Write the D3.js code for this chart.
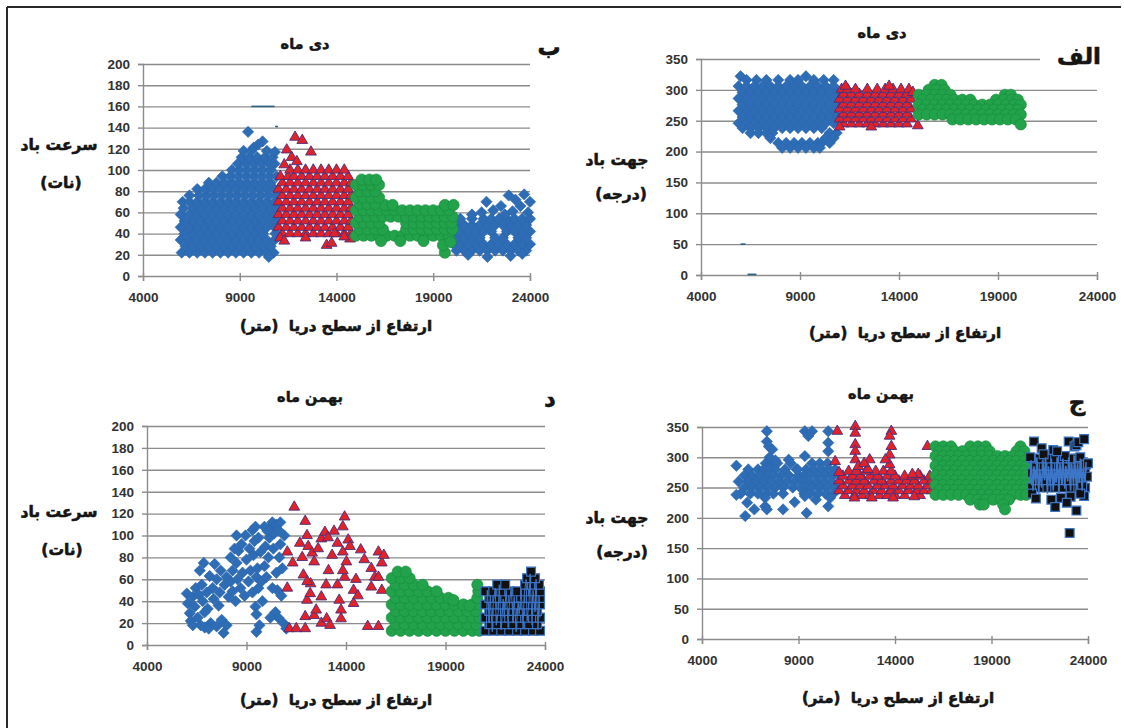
<!DOCTYPE html>
<html><head><meta charset="utf-8">
<script src="https://cdn.jsdelivr.net/npm/d3@7"></script>
<style>body{margin:0;background:#fff}svg{display:block}</style>
</head><body>
<svg id="chart" width="1124" height="728"></svg>
<script>
// ---------------- tick labels / categories ----------------
const xTicks = [4000, 9000, 14000, 19000, 24000];
const speedTicks = [0, 20, 40, 60, 80, 100, 120, 140, 160, 180, 200];
const dirTicks = [0, 50, 100, 150, 200, 250, 300, 350];
const monthTitles = ["دی ماه", "بهمن ماه"];
const panelLetters = ["الف", "ب", "ج", "د"];
const speedTitle = ["سرعت باد", "(نات)"];
const dirTitle = ["جهت باد", "(درجه)"];
const altTitle = "ارتفاع از سطح دریا  (متر)";

// ---------------- data: rows are [y, x1, x2, ...]; pairs are [x, y] ----------------
// Panel ب : Dey, wind speed (knots) vs altitude (m)
const deySpeedBlueRows = [
 [22, 6000,6400,6800,7200,7600,8000,8400,8800,9200,9600,10000,10400,10750],
 [28, 6200,6600,7000,7400,7800,8200,8600,9000,9400,9800,10200,10600],
 [34, 5950,6400,6800,7200,7600,8000,8400,8800,9200,9600,10000,10400,10800],
 [40, 6150,6600,7000,7400,7800,8200,8600,9000,9400,9800,10200,10850],
 [46, 5950,6400,6800,7200,7600,8000,8400,8800,9200,9600,10000,10400,10800],
 [52, 6150,6600,7000,7400,7800,8200,8600,9000,9400,9800,10200,10600,10900],
 [58, 5950,6400,6800,7200,7600,8000,8400,8800,9200,9600,10000,10400,10800],
 [64, 6100,6600,7000,7400,7800,8200,8600,9000,9400,9800,10200,10600,10900],
 [70, 6050,6400,6800,7200,7600,8000,8400,8800,9200,9600,10000,10400,10800],
 [76, 6400,6900,7300,7700,8100,8500,8900,9300,9700,10100,10500,10900],
 [82, 6800,7200,7600,8000,8400,8800,9200,9600,10000,10400,10800],
 [88, 7400,7800,8200,8600,9000,9400,9800,10200,10600],
 [94, 8100,8500,8900,9300,9700,10100,10500,10900],
 [100, 8600,9000,9400,9800,10200,10600],
 [106, 8900,9300,9700,10100,10500,10800],
 [112, 9100,9500,9900,10300,10700],
 [118, 9200,9600,10400]
];
const deySpeedBlueExtra = [[9430,136],[10180,127],[10820,117],[9715,121],[9950,124],[10500,18]];
const deySpeedRedRows = [
 [40, 11200,11600,12000,12400,12800,13200,13600,14000,14400,14750],
 [46, 11000,11400,11800,12200,12600,13000,13400,13800,14200,14600],
 [52, 11200,11600,12000,12400,12800,13200,13600,14000,14400,14750],
 [58, 11000,11400,11800,12200,12600,13000,13400,13800,14200,14600],
 [64, 11200,11600,12000,12400,12800,13200,13600,14000,14400,14750],
 [70, 11000,11400,11800,12200,12600,13000,13400,13800,14200,14600],
 [76, 11200,11600,12000,12400,12800,13200,13600,14000,14400,14750],
 [82, 11000,11400,11800,12200,12600,13000,13400,13800,14200,14600],
 [88, 11200,11600,12000,12400,12800,13200,13600,14000,14400,14750],
 [94, 11100,11500,11800,12200,12600,13000,13400,13800,14200,14600],
 [100, 11600,12000,12400,12800,13200,13600,14000,14400]
];
const deySpeedRedExtra = [[11860,131],[12230,128],[11430,119],[11680,112],[12680,117],[11950,108],[11300,105],
 [13490,29],[13750,31],[14700,35],[11080,36],[11300,33],[12400,36],[14400,37],[13900,40]];
const deySpeedGreenRows = [
 [38, 15000,15400,15800,16200,16600,17000,17400,17800,18200,18600,19000,19400,19800],
 [44, 15200,15600,16000,16400,17600,18000,18400,18800,19200,19600,20000],
 [50, 15000,15400,15800,16200,17600,18000,18400,18800,19200,19600,19950],
 [56, 15200,15600,16000,16400,16800,17200,17600,18000,18400,18800,19200,19600,20000],
 [62, 15000,15400,15800,16200,16600,17000,17400,17800,18200,18600,19000,19400,19800],
 [67, 16500,16900,19600,20050],
 [68, 15200,15600,16000],
 [74, 15000,15400,15800,16200],
 [80, 15200,15600,16000],
 [86, 15000,15400,15800,16200],
 [91, 15300,15700,16050]
];
const deySpeedGreenExtra = [[19600,22],[19500,29],[19900,32],[16300,33],[18500,33],[17300,33]];
const deySpeedBlue2Rows = [
 [24, 20200,20600,21000,21400,21800,22200,22600,23000,23400,23800],
 [30, 20050,20400,20800,21200,21600,22000,22400,22800,23200,23600,24000],
 [36, 20200,20600,21000,21400,22200,22600,23400,23800],
 [42, 20050,20400,20800,21200,21600,22000,22800,23200,23600,24000],
 [48, 20200,20600,21000,21400,21800,22200,22600,23000,23400,23800],
 [54, 20400,21000,21600,22000,22400,22800,23200,23600,24000]
];
const deySpeedBlue2Extra = [[21750,70],[22100,62],[22500,66],[22900,76],[23250,72],[23500,66],[23700,77],[24000,70],
 [23900,60],[22700,58],[23100,61],[21500,60],[21000,58],[20800,20],[21800,18],[23000,19],[23600,21]];
const deySpeedDash = [[9600,10800,160],[10830,10980,141]];

// Panel الف : Dey, wind direction (degrees) vs altitude (m)
const deyDirBlueRows = [
 [322, 6000,9300],
 [316, 6300,6800,7300,7900,8500,8900,9700,10200,10700],
 [306, 5900,6300,6700,7100,7500,7900,8300,8700,9100,9500,9900,10300,10700],
 [296, 6100,6500,6900,7300,7700,8100,8500,8900,9300,9700,10100,10500,10900],
 [286, 5900,6300,6700,7100,7500,7900,8300,8700,9100,9500,9900,10300,10700],
 [276, 6100,6500,6900,7300,7700,8100,8500,8900,9300,9700,10100,10500,10900],
 [266, 5900,6300,6700,7100,7500,7900,8300,8700,9100,9500,9900,10300,10700],
 [256, 6100,6500,6900,7300,7700,8100,8500,8900,9300,9700,10100,10500,10900],
 [246, 5900,6300,6700,7100,7500,7900,8300,8700,9100,9500,9900,10300,10700],
 [238, 6100,6500,6900,7300,7700,8100,8500,8900,9300,9700,10100],
 [230, 6500,6900,7300,7600,10500,10850],
 [222, 7500,10300,10700],
 [214, 7900,8300,8700,9100,9500,9900,10100,10500],
 [206, 8100,8500,8900,9300,9700,10000]
];
const deyDirRedRows = [
 [245, 11200,11600,12000,12400,12800,13200,13600,14000,14400],
 [253, 11000,11400,11800,12200,12600,13000,13400,13800,14200,14600],
 [261, 11200,11600,12000,12400,12800,13200,13600,14000,14400],
 [269, 11000,11400,11800,12200,12600,13000,13400,13800,14200,14600],
 [277, 11200,11600,12000,12400,12800,13200,13600,14000,14400],
 [285, 11000,11400,11800,12200,12600,13000,13400,13800,14200,14600],
 [293, 11200,11600,12000,12400,12800,13200,13600,14000,14400],
 [301, 11100,11400,11800,12400,12900,13300,13700,14100,14500]
];
const deyDirRedExtra = [[14950,242],[11300,306],[13500,306],[14700,296],[11000,240],[12600,240]];
const deyDirGreenRows = [
 [308, 15800,16150],
 [300, 15500,15900,16300],
 [292, 15000,15400,15800,16200,16600,19350,19650],
 [284, 15200,15600,16000,16400,16800,17200,17600,18900,19300,19700,20000],
 [276, 15000,15400,15800,16200,16600,17000,17400,17800,18200,18600,19000,19400,19800,20150],
 [268, 15200,15600,16000,16400,16800,17200,17600,18000,18400,18800,19200,19600,20000],
 [260, 15000,15400,15800,16200,16600,17000,17400,17800,18200,18600,19000,19400,19800,20150],
 [252, 16700,17100,17500,17900,18300,18700,19100,19500,19900],
 [244, 20150]
];
const deyDirDash = [[6000,6250,50],[6350,6800,1]];

// Panel د : Bahman, wind speed (knots)
const bahmanSpeedBlue = [
 [6000,47],[6050,38],[6150,29],[6200,22],[6300,44],[6400,35],[6450,52],[6600,46],[6550,25],[6700,18],
 [6800,40],[6750,55],[6650,68],[6850,75],[6900,16],[7000,48],[7050,33],[7150,63],[7200,20],[7300,52],
 [7400,74],[7350,42],[7500,60],[7500,17],[7600,36],[7650,48],[7700,68],[7750,23],[7850,11],[7900,55],
 [8000,62],[8000,18],[8100,44],[8200,58],[8300,68],[8300,49],[8450,40],[8500,75],[8550,60],[8600,86],
 [8700,52],[8750,92],[8800,66],[8900,45],[8950,100],[9000,78],[9100,58],[9150,88],[9200,68],[9300,105],
 [9300,48],[9400,95],[9350,82],[9450,108],[9500,62],[9450,35],[9500,28],[9550,70],[9600,98],[9600,52],
 [9500,12],[9650,18],[9700,85],[9750,58],[9800,40],[9900,72],[9950,90],[10000,62],[10100,80],[10150,98],
 [10200,108],[10300,112],[10350,88],[10400,102],[10450,30],[10500,110],[10500,66],[10550,50],[10600,105],[10600,25],
 [10650,80],[10700,112],[10700,92],[10750,45],[10800,70],[10850,20],[10900,100],[11000,15],[10200,25],[10300,52],
 [9900,108],[10050,104],[8500,100],[8400,88],[8200,80],[6900,30],[7100,15],[6300,18]
];
const bahmanSpeedRed = [
 [11400,126],[11050,85],[11320,75],[11950,113],[11680,93],[12040,100],[11860,64],[12400,76],[12220,56],[12040,41],
 [11950,26],[11950,15],[11150,15],[11500,15],[11050,52],[12760,97],[12940,103],[13300,82],[13570,93],[13120,68],
 [12760,44],[12400,27],[12760,20],[13030,24],[13570,55],[13660,41],[13930,62],[13840,108],[13930,117],[14110,96],
 [13840,85],[14020,76],[13840,68],[13750,32],[13750,24],[14380,50],[14380,38],[14740,87],[14920,78],[15270,70],
 [15450,62],[15270,53],[15630,85],[15800,75],[15630,62],[15800,50],[15090,17],[15630,17],[12100,90],[12300,84],
 [12600,88],[13100,98],[13400,104],[12200,47],[12500,32],[13200,18],[14200,90],[14600,45],[15900,82],[11800,80],
 [12050,58],[13000,55],[14500,60]
];
const bahmanSpeedGreenRows = [
 [13, 16300,16750,17200,17650,18100,18550,19000,19450,19900,20350,20700],
 [19, 16500,16950,17400,17850,18300,18750,19200,19650,20100,20550],
 [25, 16300,16750,17200,17650,18100,18550,19000,19450,19900,20350,20700],
 [31, 16500,16950,17400,17850,18300,18750,19200,19650,20100,20550],
 [37, 16300,16750,17200,17650,18100,18550,19000,19450,19900,20350,20700],
 [43, 16500,16950,17400,17850,18300,18750,19150,20600],
 [49, 16300,16750,17200,17650,18100,18550,20650],
 [55, 16500,16950,17400,17850,20600],
 [61, 16300,16750,17200],
 [67, 16600,17000]
];
const bahmanSpeedGreenExtra = [[19400,41],[20200,36]];
const bahmanSpeedBlackRows = [
 [13, 21000,21400,21800,22200,22600,23000,23400,23750],
 [19, 21200,21600,22000,22400,22800,23200,23600],
 [25, 21000,21400,21800,22200,22600,23000,23400,23750],
 [31, 21200,21600,22000,22400,22800,23200,23600],
 [37, 21000,21400,21800,22200,22600,23000,23400,23750],
 [43, 21200,21600,22000,22400,22800,23200,23600,23750],
 [49, 21000,21400,21800,22200,22600,23000,23400,23750],
 [55, 21600,22000,23000,23350,23700],
 [61, 23100,23500],
 [67, 23300]
];
// blue profile trace running through the black-square cloud
const bahmanSpeedBlackTrace = [[21050,15],[21100,50],[21200,20],[21250,45],[21350,12],[21400,38],[21500,52],[21550,18],
 [21650,30],[21700,55],[21800,14],[21900,42],[21950,25],[22050,50],[22150,16],[22200,35],[22300,53],[22400,20],
 [22450,44],[22550,12],[22650,40],[22700,28],[22800,50],[22900,15],[22950,45],[23050,60],[23100,22],[23200,40],
 [23250,65],[23350,18],[23400,50],[23500,30],[23550,60],[23650,14],[23700,45],[23750,25]];

// Panel ج : Bahman, wind direction (degrees)
const bahmanDirBlueRows = [
 [290, 7300,7600,7900,8600,9700,10100,10500],
 [280, 6400,6900,7200,7500,7800,8300,8900,9400,9800,10200,10600,10900],
 [270, 6200,6600,7000,7400,7700,8100,8500,9000,9300,9600,10000,10400,10800],
 [260, 5900,6400,6800,7200,7600,8000,8400,8800,9200,9500,9900,10300,10700],
 [250, 6200,6600,7000,7400,7800,8200,8700,9100,9400,9700,10100,10500,10900],
 [240, 6000,6500,6900,7300,7700,8200,9300,9600,10000,10400,10800]
];
const bahmanDirBlueExtra = [[5780,286],[5780,238],[6240,203],[6340,225],[6710,214],[7270,233],[7360,343],[7360,326],
 [7460,318],[7640,313],[7270,219],[7360,214],[8200,214],[8490,296],[8950,280],[9330,302],[9330,236],[9420,208],
 [9330,343],[9510,335],[9700,343],[10540,343],[10540,324],[10540,310],[10540,219],[10640,233],[7500,300],[7800,295],
 [8800,226],[9900,230]];
const bahmanDirRedRows = [
 [237, 11400,11900,12300,12700,13200,13600,14000,14500,15300],
 [245, 11100,11600,12000,12400,12900,13300,13800,14200,14700,15100,15500,15900],
 [253, 11300,11800,12200,12600,13100,13500,13900,14400,14800,15200,15700],
 [261, 11100,11600,12000,12400,12900,13300,13800,14200,14600,15000,15500,15900],
 [269, 11300,11800,12200,12700,13100,13600,14000,14500,14900,15300,15800],
 [277, 11600,12000,12500,13000,13400,13800]
];
const bahmanDirRedExtra = [[11010,343],[11940,351],[11940,340],[11940,321],[11940,310],[11940,296],[12100,285],
 [13810,343],[13720,335],[13810,318],[13720,304],[13720,288],[12690,296],[12600,280],[15680,318],[10900,293],
 [11100,275],[11900,233],[12800,233],[13900,233],[15000,235],[15200,272],[14900,272],[12400,290],[13500,296]];
const bahmanDirGreenRows = [
 [318, 16100,16500,16900,17900,18300,18700,20500],
 [310, 16300,16700,17100,17500,18100,18500,18900,20300,20700],
 [302, 16100,16500,16900,17300,17700,18100,18500,18900,19300,19700,20100,20500],
 [294, 16300,16700,17100,17500,17900,18300,18700,19100,19500,19900,20300,20700],
 [286, 16100,16500,16900,17300,17700,18100,18500,18900,19300,19700,20100,20500,20800],
 [278, 16300,16700,17100,17500,17900,18300,18700,19100,19500,19900,20300,20700],
 [270, 16100,16500,16900,17300,17700,18100,18500,18900,19300,19700,20100,20500,20800],
 [262, 16300,16700,17100,17500,17900,18300,18700,19100,19500,19900,20300,20700],
 [254, 16100,16500,16900,17300,17700,18100,18500,18900,19300,19700,20100,20500,20800],
 [246, 16300,16700,17100,17500,17900,18300,18700,19100,19500,19900,20300,20700],
 [238, 16100,16500,16900,17300,17700,18100,18500,18900,19300,19700,20100,20500,20800],
 [230, 17900,18300,18700,19100,19500,19900],
 [222, 18400,18600,19600],
 [214, 19700]
];
const bahmanDirBlackRows = [
 [250, 21100,21500,21900,22300,22700,23100,23500,23850],
 [262, 21300,21700,22100,22500,22900,23300,23700],
 [274, 21100,21500,21900,22300,22700,23100,23500,23850],
 [286, 21300,21700,22100,22500,22900,23300,23700],
 [298, 21100,21500,21900,22300,22700,23100,23500]
];
const bahmanDirBlackExtra = [[21000,300],[21200,326],[21100,240],[21300,232],[21600,315],[22200,312],[22100,230],
 [22300,218],[22600,233],[23000,326],[23050,175],[23100,235],[23300,318],[23400,212],[23400,320],[23600,300],
 [23800,236],[23900,288],[24000,290],[23950,268],[23700,252],[22800,302],[22400,310],[21700,305],[23500,325],
 [22900,225],[23600,240],[23800,330]];
const bahmanDirBlackTrace = [[21000,260],[21050,295],[21150,245],[21200,285],[21300,255],[21350,300],[21450,240],
 [21500,280],[21600,250],[21650,295],[21750,262],[21800,300],[21900,240],[21950,285],[22050,252],[22100,298],
 [22200,245],[22250,282],[22350,258],[22400,300],[22500,242],[22550,290],[22650,255],[22700,298],[22800,248],
 [22850,286],[22950,260],[23000,300],[23100,245],[23150,290],[23250,255],[23300,302],[23400,248],[23450,288],
 [23550,258],[23600,298],[23700,245],[23750,280],[23850,260],[23900,292]];

// ---------------- helpers ----------------
const fromRows = rows => rows.flatMap(r => r.slice(1).map(x => [x, r[0]]));
const diamond = { draw(ctx, size) { const a = Math.sqrt(size / 2);
  ctx.moveTo(0, -a); ctx.lineTo(a, 0); ctx.lineTo(0, a); ctx.lineTo(-a, 0); ctx.closePath(); } };
const markerStyle = {
  blue:  { type: diamond, size: 64, fill: "#2e6db5", stroke: "#2a64aa", sw: 0.6 },
  red:   { type: d3.symbolTriangle, size: 50, fill: "#e2222b", stroke: "#4b2e78", sw: 0.9 },
  green: { type: d3.symbolCircle, size: 100, fill: "#22a24b", stroke: "#1a8a3e", sw: 0.6 },
  black: { type: d3.symbolSquare, size: 78, fill: "#111111", stroke: "#3c74c6", sw: 1.2 }
};

const panels = [
 { left: 143, right: 530, top: 64, bottom: 276, yMax: 200, yTicks: speedTicks,
   title: monthTitles[0], tx: 305, ty: 44, letter: panelLetters[1], lx: 549, ly: 47,
   yTitle: speedTitle, ytx: [59, 61], yty: [145, 183], xtx: 336, xty: 326,
   series: [["blue", fromRows(deySpeedBlueRows).concat(deySpeedBlueExtra)],
            ["blue", fromRows(deySpeedBlue2Rows).concat(deySpeedBlue2Extra)],
            ["red", fromRows(deySpeedRedRows).concat(deySpeedRedExtra)],
            ["green", fromRows(deySpeedGreenRows).concat(deySpeedGreenExtra)]],
   dash: deySpeedDash, trace: [], traceW: 0 },
 { left: 701, right: 1097, top: 59, bottom: 275, yMax: 350, yTicks: dirTicks, topGridEnd: 1040,
   title: monthTitles[0], tx: 882, ty: 33, letter: panelLetters[0], lx: 1079, ly: 56,
   yTitle: dirTitle, ytx: [617, 621], yty: [160, 194], xtx: 905, xty: 333,
   series: [["blue", fromRows(deyDirBlueRows)],
            ["red", fromRows(deyDirRedRows).concat(deyDirRedExtra)],
            ["green", fromRows(deyDirGreenRows)]],
   dash: deyDirDash, trace: [], traceW: 0 },
 { left: 147, right: 545, top: 426, bottom: 645, yMax: 200, yTicks: speedTicks,
   title: monthTitles[1], tx: 310, ty: 397, letter: panelLetters[3], lx: 550, ly: 399,
   yTitle: speedTitle, ytx: [59, 62], yty: [512, 550], xtx: 336, xty: 700,
   series: [["blue", bahmanSpeedBlue],
            ["red", bahmanSpeedRed],
            ["green", fromRows(bahmanSpeedGreenRows).concat(bahmanSpeedGreenExtra)],
            ["black", fromRows(bahmanSpeedBlackRows)]],
   dash: [], trace: bahmanSpeedBlackTrace, traceW: 1 },
 { left: 702, right: 1088, top: 427, bottom: 639, yMax: 350, yTicks: dirTicks,
   title: monthTitles[1], tx: 881, ty: 394, letter: panelLetters[2], lx: 1077, ly: 402,
   yTitle: dirTitle, ytx: [617, 622], yty: [518, 552], xtx: 898, xty: 698,
   series: [["blue", fromRows(bahmanDirBlueRows).concat(bahmanDirBlueExtra)],
            ["red", fromRows(bahmanDirRedRows).concat(bahmanDirRedExtra)],
            ["green", fromRows(bahmanDirGreenRows)],
            ["black", fromRows(bahmanDirBlackRows).concat(bahmanDirBlackExtra)]],
   dash: [], trace: bahmanDirBlackTrace, traceW: 1.6 }
];

const svg = d3.select("#chart");
svg.append("rect").attr("width", 1124).attr("height", 728).attr("fill", "#fff");
// outer frame
svg.append("line").attr("x1", 7).attr("x2", 1121).attr("y1", 7).attr("y2", 7).attr("stroke", "#2a2a2a").attr("stroke-width", 2);
svg.append("line").attr("x1", 7).attr("x2", 7).attr("y1", 7).attr("y2", 728).attr("stroke", "#2a2a2a").attr("stroke-width", 2);

const faFont = "'DejaVu Sans', 'Noto Sans', sans-serif";
const numFont = "'Liberation Sans', Arial, sans-serif";
const gridColor = "#8c8c8c";

function faText(g, txt, x, y, size, sw) {
  g.append("text").attr("x", x).attr("y", y).attr("dy", "0.35em")
   .attr("text-anchor", "middle").attr("direction", "rtl")
   .style("white-space", "pre")
   .attr("font-family", faFont).attr("font-weight", "bold").attr("font-size", size)
   .attr("fill", "#151515").attr("stroke", "#151515").attr("stroke-width", sw)
   .attr("stroke-linejoin", "round").text(txt);
}

panels.forEach(p => {
  const g = svg.append("g");
  const x = d3.scaleLinear().domain([4000, 24000]).range([p.left, p.right]);
  const y = d3.scaleLinear().domain([0, p.yMax]).range([p.bottom, p.top]);
  const w = p.right - p.left;

  // horizontal gridlines
  const grid = g.append("g").attr("transform", `translate(${p.left},0)`)
    .call(d3.axisLeft(y).tickValues(p.yTicks.slice(1)).tickSize(-w).tickFormat(""));
  grid.select(".domain").remove();
  grid.selectAll("line").attr("stroke", gridColor).attr("stroke-width", 1.4);
  if (p.topGridEnd) grid.selectAll(".tick").filter(d => d === p.yMax).select("line").attr("x2", p.topGridEnd - p.left);

  // y axis
  const ya = g.append("g").attr("transform", `translate(${p.left},0)`)
    .call(d3.axisLeft(y).tickValues(p.yTicks).tickSize(5).tickPadding(8));
  ya.select(".domain").attr("stroke", gridColor).attr("stroke-width", 1.4);
  ya.selectAll("line").attr("stroke", gridColor).attr("stroke-width", 1.4);
  ya.selectAll("text").attr("font-family", numFont).attr("font-weight", "bold").attr("font-size", 13.5).attr("fill", "#333");

  // x axis
  const xa = g.append("g").attr("transform", `translate(0,${p.bottom})`)
    .call(d3.axisBottom(x).tickValues(xTicks).tickSize(5).tickPadding(11).tickFormat(d3.format("d")));
  xa.select(".domain").attr("stroke", gridColor).attr("stroke-width", 1.4);
  xa.selectAll("line").attr("stroke", gridColor).attr("stroke-width", 1.4).attr("y1", -3);
  xa.selectAll("text").attr("font-family", numFont).attr("font-weight", "bold").attr("font-size", 13.5).attr("fill", "#333");

  // tiny dash marks
  g.append("g").selectAll("line").data(p.dash).join("line")
    .attr("x1", d => x(d[0])).attr("x2", d => x(d[1])).attr("y1", d => y(d[2])).attr("y2", d => y(d[2]))
    .attr("stroke", "#2d5f80").attr("stroke-width", 1.6);

  // series
  p.series.forEach(([kind, data]) => {
    const st = markerStyle[kind];
    g.append("g").selectAll("path").data(data).join("path")
      .attr("transform", d => `translate(${x(d[0])},${y(d[1])})`)
      .attr("d", d3.symbol().type(st.type).size(st.size))
      .attr("fill", st.fill).attr("stroke", st.stroke).attr("stroke-width", st.sw);
  });

  // blue trace through the black cloud
  if (p.trace.length) {
    g.append("path").datum(p.trace)
      .attr("d", d3.line().x(d => x(d[0])).y(d => y(d[1])))
      .attr("fill", "none").attr("stroke", "#3d76c8").attr("stroke-width", p.traceW);
  }

  // texts
  faText(g, p.title, p.tx, p.ty, 14.5, 0.5);
  faText(g, p.letter, p.lx, p.ly, 23, 0.6);
  faText(g, p.yTitle[0], p.ytx[0], p.yty[0], 15.5, 0.6);
  faText(g, p.yTitle[1], p.ytx[1], p.yty[1], 15.5, 0.6);
  faText(g, altTitle, p.xtx, p.xty, 15, 0.6);
});
</script>
</body></html>
